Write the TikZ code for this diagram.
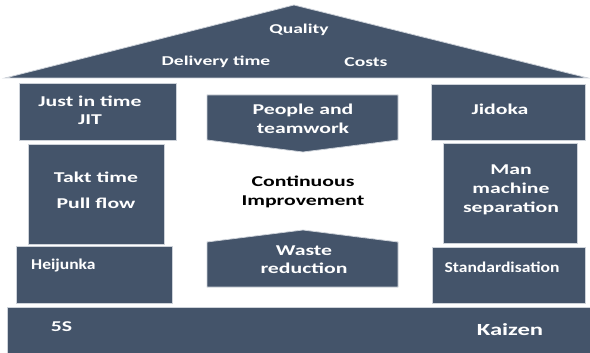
\documentclass[tikz,border=0pt]{standalone}
\usepackage{fontspec}
\setmainfont{Carlito}[FakeStretch=1.45]
\newfontfamily\narrowfont{Carlito}[FakeStretch=1.17]
\usepackage{tikz}
\usetikzlibrary{positioning}
\definecolor{slate}{HTML}{44546A}
\definecolor{rim}{RGB}{205,210,217}
\tikzset{
  pillar/.style={rectangle, draw=rim, line width=0.8pt, fill=slate, inner sep=0pt},
  roof/.style={draw=rim, line width=0.8pt, fill=slate, line join=miter},
  arrowbox/.style={draw=rim, line width=0.8pt, fill=slate},
  txt/.style={text=white, font=\bfseries\fontsize{15}{18.5}\selectfont, align=center, inner sep=0pt},
  rooftxt/.style={txt, font=\bfseries\fontsize{13.5}{16}\selectfont},
  slimtxt/.style={txt, font=\narrowfont\bfseries\fontsize{15}{18}\selectfont},
  core/.style={txt, text=black} % the one dark text in the middle
}

\begin{document}
\begin{tikzpicture}[x=1pt, y=-1pt]
  \useasboundingbox (0,0) rectangle (590,353);

  % Roof
  \filldraw[roof] (5,78) -- (294,5) -- (588,78) -- cycle;
  \node[rooftxt] (quality)  at (299,30) {Quality};
  \node[rooftxt] (delivery) at (216,62) {Delivery time};
  \node[rooftxt] (costs)    at (366,62) {Costs};

  % Left pillar
  \node[pillar, minimum width=157pt, minimum height=57pt] (jitbox) at (97.5,111.5) {};
  \node[txt] (jit) at (90,110.5) {Just in time\\JIT};
  \node[pillar, minimum width=136pt, minimum height=100pt] (taktbox) at (96,194) {};
  \node[txt] (takt) at (96,190) {Takt time\\[7.5pt]Pull flow};
  \node[pillar, minimum width=156pt, minimum height=57pt] (heijbox) at (94,274.5) {};
  \node[slimtxt, anchor=west] (heij) at (31,266) {Heijunka};

  % Right pillar
  \node[pillar, minimum width=154pt, minimum height=56pt] (jidbox) at (508,112) {};
  \node[txt] (jidoka) at (500,109) {Jidoka};
  \node[pillar, minimum width=134pt, minimum height=100pt] (manbox) at (510,193) {};
  \node[txt, font=\bfseries\fontsize{15}{19}\selectfont] (manmach) at (511,190) {Man\\machine\\separation};
  \node[pillar, minimum width=153pt, minimum height=56pt] (stdbox) at (508.5,275) {};
  \node[slimtxt] (std) at (502,267) {Standardisation};

  % Centre: the two arrows and continuous improvement
  \filldraw[arrowbox] (207,95) -- (398,95) -- (398,140) -- (303,152) -- (207,140) -- cycle;
  \node[txt] (people) at (303,119) {People and\\teamwork};
  \node[core] (ci) at (303,192) {Continuous\\Improvement};
  \filldraw[arrowbox] (207,242) -- (303,230) -- (398,242) -- (398,287) -- (207,287) -- cycle;
  \node[txt] (waste) at (304,259.5) {Waste\\reduction};

  % Foundation
  \node[pillar, minimum width=584pt, minimum height=47pt] (basebox) at (299,330.5) {};
  \node[txt] (fives) at (61.5,327) {5S};
  \node[txt, font=\bfseries\fontsize{17}{20}\selectfont] (kaizen) at (510,330) {Kaizen};

\end{tikzpicture}
\end{document}
